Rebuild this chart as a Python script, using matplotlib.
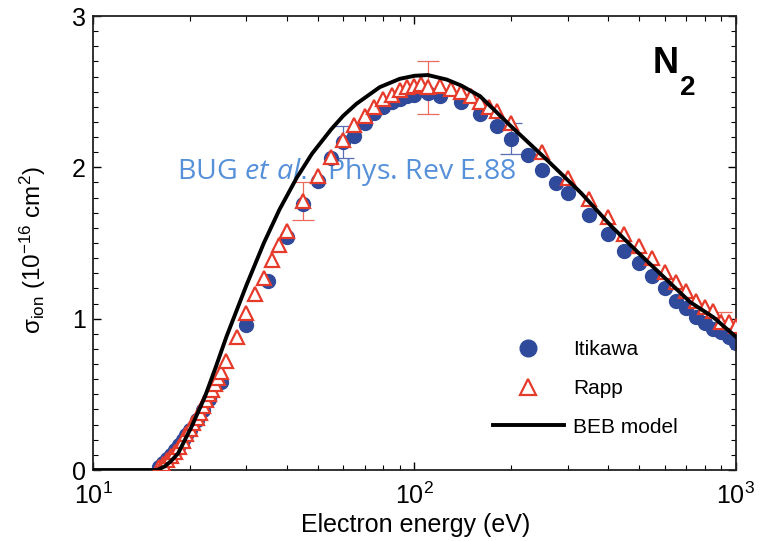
import matplotlib
matplotlib.use("Agg")
import matplotlib.pyplot as plt
import numpy as np

plt.rcParams['font.family'] = ['Liberation Sans', 'DejaVu Sans']
plt.rcParams['mathtext.fontset'] = 'custom'
plt.rcParams['mathtext.rm'] = 'Liberation Sans'
plt.rcParams['mathtext.it'] = 'Open Sans:italic'
plt.rcParams['mathtext.bf'] = 'Liberation Sans:bold'

# Itikawa (filled circles)
itikawa_E = [16, 16.5, 17, 17.5, 18, 18.5, 19, 19.5, 20, 21, 22, 23, 25, 30, 35, 40, 45,
             50, 55, 60, 65, 70, 75, 80, 85, 90, 95, 100, 110, 120, 140, 160, 180, 200,
             225, 250, 275, 300, 350, 400, 450, 500, 550, 600, 650, 700, 750, 800, 850,
             900, 950, 1000]
itikawa_sigma = [0.021, 0.047, 0.071, 0.099, 0.129, 0.164, 0.199, 0.23, 0.266, 0.33, 0.398,
                 0.467, 0.58, 0.96, 1.25, 1.54, 1.76, 1.91, 2.06, 2.17, 2.21, 2.29, 2.36,
                 2.40, 2.43, 2.45, 2.47, 2.48, 2.49, 2.47, 2.43, 2.35, 2.27, 2.19, 2.08,
                 1.98, 1.895, 1.83, 1.685, 1.56, 1.45, 1.37, 1.28, 1.20, 1.12, 1.07, 1.01,
                 0.97, 0.93, 0.91, 0.88, 0.84]
itikawa_err_E = [60, 200]
itikawa_err = [0.105, 0.105]

# Rapp (open triangles)
rapp_E = [16, 16.5, 17, 17.5, 18, 18.5, 19, 19.5, 20, 20.5, 21, 21.5, 22, 22.5, 23, 23.5,
          24, 24.5, 25, 26, 28, 30, 32, 34, 36, 38, 40, 45, 50, 55, 60, 65, 70, 75, 80,
          85, 90, 95, 100, 105, 110, 120, 130, 140, 150, 160, 170, 180, 200, 250, 300,
          350, 400, 450, 500, 550, 600, 650, 700, 750, 800, 850, 900, 950, 1000]
rapp_sigma = [0.02, 0.04, 0.065, 0.09, 0.12, 0.155, 0.19, 0.235, 0.27, 0.31, 0.345, 0.38,
              0.42, 0.46, 0.50, 0.53, 0.57, 0.61, 0.65, 0.72, 0.88, 1.035, 1.16, 1.27,
              1.39, 1.49, 1.58, 1.775, 1.94, 2.07, 2.18, 2.28, 2.34, 2.40, 2.45, 2.48,
              2.51, 2.53, 2.54, 2.55, 2.53, 2.54, 2.52, 2.50, 2.47, 2.43, 2.40, 2.37,
              2.29, 2.10, 1.93, 1.79, 1.67, 1.56, 1.48, 1.40, 1.31, 1.24, 1.18, 1.12,
              1.08, 1.05, 0.98, 0.98, 0.95]
rapp_err_E = [45, 110, 900]
rapp_err = [0.125, 0.175, 0.065]

# BEB model (line)
beb_E = [10, 15.58, 16, 16.75, 17.5, 18.4, 20.3, 22.3, 24, 26, 30, 34, 38, 43, 48, 55, 60,
         66, 78, 90, 100, 110, 126, 140, 160, 200, 258, 330, 410, 500, 600, 720, 850, 1000]
beb_sigma = [0, 0, 0.004, 0.025, 0.06, 0.11, 0.29, 0.485, 0.67, 0.88, 1.22, 1.50, 1.72,
             1.93, 2.09, 2.25, 2.34, 2.42, 2.53, 2.585, 2.605, 2.61, 2.58, 2.54, 2.47, 2.27,
             2.05, 1.83, 1.61, 1.43, 1.27, 1.11, 1.01, 0.88]

blue = '#2f4a9b'
red = '#e63a2a'

fig = plt.figure(figsize=(7.64, 5.41), dpi=100)
ax = fig.add_axes([0.1217, 0.1312, 0.8416, 0.8392])

# error bars (drawn under the markers)
ie = [itikawa_sigma[itikawa_E.index(e)] for e in itikawa_err_E]
re = [rapp_sigma[rapp_E.index(e)] for e in rapp_err_E]
ax.errorbar(itikawa_err_E, ie, yerr=itikawa_err, fmt='none', ecolor='#5a6fb5',
            elinewidth=0.9, capsize=8, capthick=0.9, zorder=1)
ax.errorbar(rapp_err_E, re, yerr=rapp_err, fmt='none', ecolor='#ea6a5e',
            elinewidth=0.9, capsize=8, capthick=0.9, zorder=1)

ax.plot(itikawa_E, itikawa_sigma, 'o', color=blue, ms=10, mec=blue, label='Itikawa', zorder=2)
ax.plot(rapp_E, rapp_sigma, '^', ms=9.5, mfc='white', mec=red, mew=1.6, label='Rapp', zorder=3)
ax.plot(beb_E, beb_sigma, '-', color='black', lw=2.8, label='BEB model', zorder=4)

ax.set_xscale('log')
ax.set_xlim(10, 1000)
ax.set_ylim(0, 3)
ax.set_yticks([0, 1, 2, 3])
ax.set_yticks(np.arange(0, 3.01, 0.1), minor=True)
ax.tick_params(which='both', direction='in', top=True, right=True, labelsize=18)
ax.tick_params(which='major', length=6, width=1.0)
ax.tick_params(which='minor', length=3.5, width=0.8)
ax.tick_params(axis='x', pad=9)
ax.tick_params(axis='y', pad=5)
for s in ax.spines.values():
    s.set_linewidth(1.3)
    s.set_color('#222222')

ax.set_xlabel('Electron energy (eV)', fontsize=18)
ax.xaxis.set_label_coords(0.502, -0.094)
ax.set_ylabel('σ$_{\\rm ion}$ (10$^{-16}$ cm$^2$)', fontsize=17.5)
ax.yaxis.set_label_coords(-0.07, 0.485)

ax.text(0.871, 0.874, 'N', transform=ax.transAxes, fontsize=26, fontweight='bold',
        ha='left', va='baseline')
ax.text(0.913, 0.826, '2', transform=ax.transAxes, fontsize=20, fontweight='bold',
        ha='left', va='baseline')

ax.text(18.2, 1.97, 'BUG $\\mathit{et\\ al.}$, Phys. Rev E.88', color='#5590d9',
        fontsize=20.5, family='Open Sans', ha='left', va='center', zorder=0)

ax.legend(loc='upper left', bbox_to_anchor=(0.622, 0.286), frameon=False, fontsize=15,
          handlelength=3.4, handletextpad=0.45, labelspacing=0.95, borderpad=0,
          borderaxespad=0, numpoints=1, markerscale=1.2)

fig.savefig('out.png', dpi=100)
